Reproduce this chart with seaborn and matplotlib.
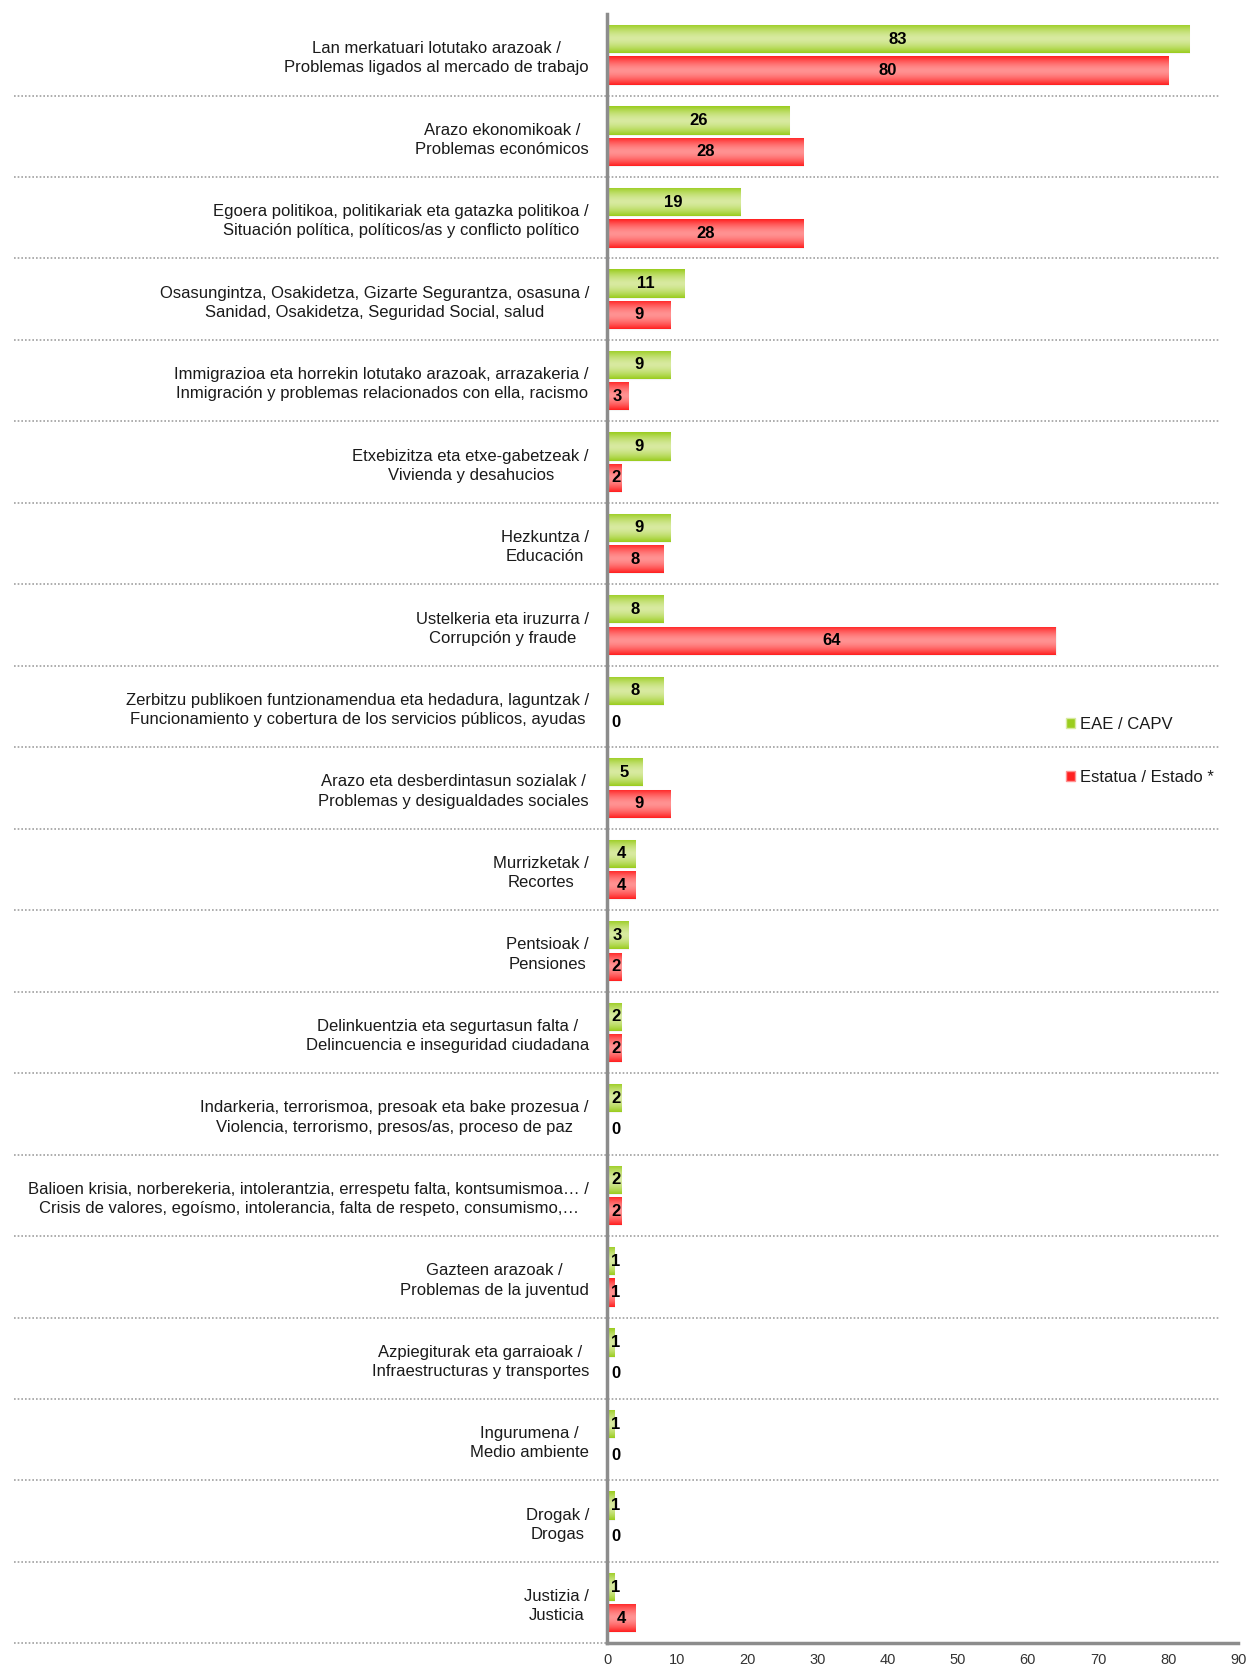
import numpy as np
import pandas as pd
import matplotlib
matplotlib.use("Agg")
import matplotlib.pyplot as plt
import matplotlib.transforms as mtransforms
from matplotlib.patches import Patch
from matplotlib.colors import LinearSegmentedColormap
import seaborn as sns

# Data
categories = [
    "Lan merkatuari lotutako arazoak /\nProblemas ligados al mercado de trabajo",
    "Arazo ekonomikoak /\nProblemas económicos",
    "Egoera politikoa, politikariak eta gatazka politikoa /\nSituación política, políticos/as y conflicto político",
    "Osasungintza, Osakidetza, Gizarte Segurantza, osasuna /\nSanidad, Osakidetza, Seguridad Social, salud",
    "Immigrazioa eta horrekin lotutako arazoak, arrazakeria /\nInmigración y problemas relacionados con ella, racismo",
    "Etxebizitza eta etxe-gabetzeak /\nVivienda y desahucios",
    "Hezkuntza /\nEducación",
    "Ustelkeria eta iruzurra /\nCorrupción y fraude",
    "Zerbitzu publikoen funtzionamendua eta hedadura, laguntzak /\nFuncionamiento y cobertura de los servicios públicos, ayudas",
    "Arazo eta desberdintasun sozialak /\nProblemas y desigualdades sociales",
    "Murrizketak /\nRecortes",
    "Pentsioak /\nPensiones",
    "Delinkuentzia eta segurtasun falta /\nDelincuencia e inseguridad ciudadana",
    "Indarkeria, terrorismoa, presoak eta bake prozesua /\nViolencia, terrorismo, presos/as, proceso de paz",
    "Balioen krisia, norberekeria, intolerantzia, errespetu falta, kontsumismoa… /\nCrisis de valores, egoísmo, intolerancia, falta de respeto, consumismo,…",
    "Gazteen arazoak /\nProblemas de la juventud",
    "Azpiegiturak eta garraioak /\nInfraestructuras y transportes",
    "Ingurumena /\nMedio ambiente",
    "Drogak /\nDrogas",
    "Justizia /\nJusticia",
]
series = ["EAE / CAPV", "Estatua / Estado *"]
eae = [83, 26, 19, 11, 9, 9, 9, 8, 8, 5, 4, 3, 2, 2, 2, 1, 1, 1, 1, 1]
estado = [80, 28, 28, 9, 3, 2, 8, 64, 0, 9, 4, 2, 2, 0, 2, 1, 0, 0, 0, 4]
x_ticks = [0, 10, 20, 30, 40, 50, 60, 70, 80, 90]

df = pd.DataFrame({
    "cat": categories * 2,
    "serie": [series[0]] * len(categories) + [series[1]] * len(categories),
    "value": eae + estado,
})

green_edge, green_mid = "#9acd1e", "#d8eaa0"
red_edge, red_mid = "#ff2020", "#ff9292"

sns.set_style("white")
plt.rcParams["font.family"] = ["Liberation Sans", "DejaVu Sans"]

fig = plt.figure(figsize=(12.5, 16.71), dpi=100)
ax = fig.add_axes([0.4856, 0.0165, 0.5050, 0.9751])

sns.barplot(data=df, y="cat", x="value", hue="serie", orient="h",
            palette=[green_edge, red_edge], width=0.77, gap=0.1,
            legend=False, ax=ax, saturation=1)

# gradient fill on each bar
grad = np.abs(np.linspace(-1, 1, 64))[:, None] ** 1.6
cmaps = [LinearSegmentedColormap.from_list("g", [green_mid, green_edge]),
         LinearSegmentedColormap.from_list("r", [red_mid, red_edge])]
for ci, cont in enumerate(ax.containers):
    for p in cont.patches:
        x0, y0, w, h = p.get_x(), p.get_y(), p.get_width(), p.get_height()
        p.set_edgecolor("#f4f4f4")
        p.set_linewidth(0.8)
        if w > 0:
            im = ax.imshow(grad, extent=[x0, x0 + w, y0 + h, y0], aspect="auto",
                           cmap=cmaps[ci], vmin=0, vmax=1, zorder=2,
                           interpolation="bilinear")
            im.set_clip_path(p)

# value labels
for ci, cont in enumerate(ax.containers):
    vals = eae if ci == 0 else estado
    for p, v in zip(cont.patches, vals):
        yc = p.get_y() + p.get_height() / 2
        ax.text(max(v / 2, 1.3), yc, str(v), ha="center", va="center",
                fontsize=12, fontweight="bold", color="black", zorder=4)

ax.set_xlim(0, 90)
ax.set_ylim(len(categories) - 0.5, -0.5)
ax.set_xticks(x_ticks)
ax.set_xlabel("")
ax.set_ylabel("")

for s in ["top", "right"]:
    ax.spines[s].set_visible(False)
ax.spines["left"].set_color("#8c8c8c")
ax.spines["left"].set_linewidth(2.5)
ax.spines["bottom"].set_color("#8c8c8c")
ax.spines["bottom"].set_linewidth(2.5)

ax.tick_params(axis="y", which="major", length=0, pad=13, labelsize=12,
               labelcolor="#1a1a1a")
ax.set_yticks(np.arange(len(categories) + 1) - 0.5, minor=True)
ax.tick_params(axis="y", which="minor", length=5, width=2, color="#8c8c8c",
               direction="out")
ax.tick_params(axis="x", which="major", length=5, width=1.5, color="#8c8c8c",
               labelsize=10.5, labelcolor="#333333", pad=2)
for lab in ax.get_yticklabels():
    lab.set_multialignment("center")
    lab.set_linespacing(1.35)

# dotted separators between categories
trans = mtransforms.blended_transform_factory(ax.transAxes, ax.transData)
for b in np.arange(1, len(categories) + 1) - 0.5:
    ax.plot([-0.94, 0.97 if b < len(categories) - 0.5 else 0.0], [b, b],
            transform=trans, color="#a0a0a0", linestyle=(0, (1, 1.2)),
            linewidth=1.2, clip_on=False, zorder=1)

handles = [Patch(facecolor=green_edge, edgecolor=green_mid),
           Patch(facecolor=red_edge, edgecolor=red_mid)]
fig.legend(handles, series, loc="center left", bbox_to_anchor=(0.841, 0.5505),
           frameon=False, handlelength=0.55, handleheight=0.55,
           handletextpad=0.3, labelspacing=2.3, fontsize=12,
           labelcolor="#1a1a1a")

fig.savefig("out.png", dpi=100)
